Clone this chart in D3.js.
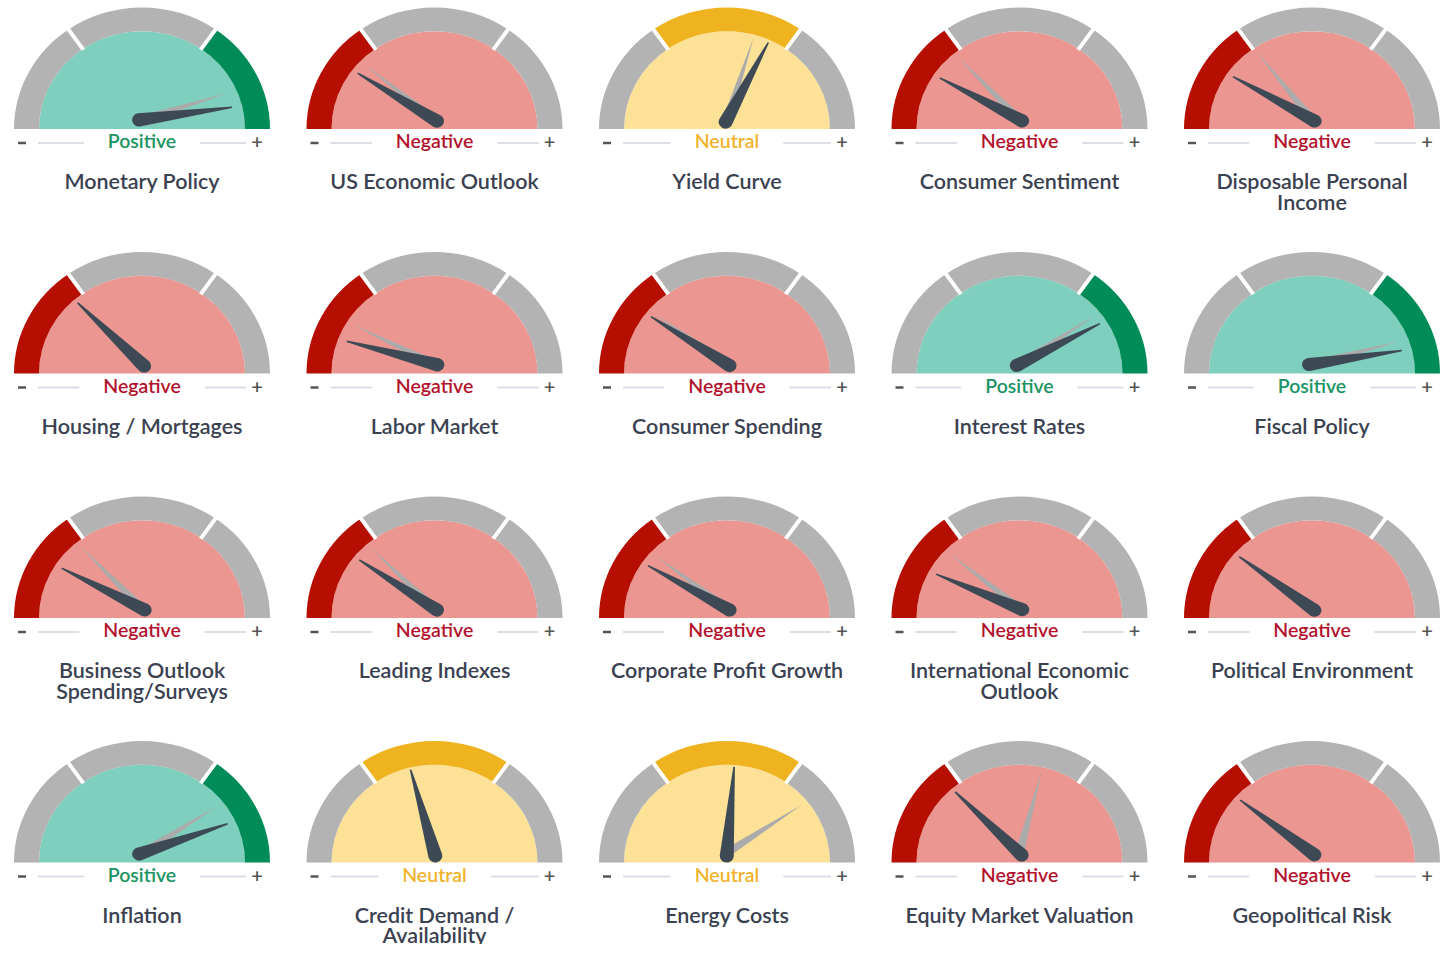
<!DOCTYPE html>
<html>
<head>
<meta charset="utf-8">
<script src="https://cdn.jsdelivr.net/npm/d3@7"></script>
<style>
  body { margin: 0; background: #fff; }
  svg { display: block; }
  text { font-family: Lato, "Open Sans", sans-serif; }
</style>
</head>
<body>
<div id="chart"></div>
<script>
// gauge titles, in reading order (5 per row)
const titles = [
  "Monetary Policy", "US Economic Outlook", "Yield Curve", "Consumer Sentiment", "Disposable Personal\nIncome",
  "Housing / Mortgages", "Labor Market", "Consumer Spending", "Interest Rates", "Fiscal Policy",
  "Business Outlook\nSpending/Surveys", "Leading Indexes", "Corporate Profit Growth", "International Economic\nOutlook", "Political Environment",
  "Inflation", "Credit Demand /\nAvailability", "Energy Costs", "Equity Market Valuation", "Geopolitical Risk"
];

const ratings = [
  "Positive", "Negative", "Neutral", "Negative", "Negative",
  "Negative", "Negative", "Negative", "Positive", "Positive",
  "Negative", "Negative", "Negative", "Negative", "Negative",
  "Positive", "Neutral", "Neutral", "Negative", "Negative"
];

// needle readings, -1 (most negative) .. +1 (most positive)
const current = [
  0.91, -0.64, 0.30, -0.68, -0.67,
  -0.50, -0.83, -0.63, 0.69, 0.90,
  -0.69, -0.62, -0.67, -0.74, -0.59,
  0.78, -0.17, 0.05, -0.50, -0.58
];

// previous readings (grey needle)
const previous = [
  0.80, -0.56, 0.19, -0.48, -0.42,
  -0.50, -0.70, -0.60, 0.62, 0.83,
  -0.48, -0.50, -0.58, -0.56, -0.59,
  0.63, -0.16, 0.62, 0.16, -0.58
];

// zone edges on the -1..1 scale
const zones = [[-1, -0.39], [-0.39, 0.39], [0.39, 1]];
const zoneNames = ["Negative", "Neutral", "Positive"];

const colors = {
  Positive: { band: "#008c58", fill: "#7ecfbd", label: "#1a9462" },
  Negative: { band: "#b60f02", fill: "#ec9691", label: "#b3122c" },
  Neutral:  { band: "#efb31f", fill: "#fde196", label: "#f0b32c" }
};
const ringGray = "#b3b3b3";

const width = 1445;
const height = 944;
const rOuter = 128;
const rInner = 103;
const squash = 0.95;

const col = d3.scalePoint().domain(d3.range(5)).range([142, 1312]);
const row = d3.scalePoint().domain(d3.range(4)).range([129, 862.5]);
const angle = d3.scaleLinear().domain([-1, 1]).range([-Math.PI / 2, Math.PI / 2]);
const deg = a => a * 180 / Math.PI;

const svg = d3.select("#chart").append("svg")
  .attr("width", width)
  .attr("height", height);

const fillArc = d3.arc().innerRadius(0).outerRadius(rInner)
  .startAngle(-Math.PI / 2).endAngle(Math.PI / 2);
const bandArc = d3.arc().innerRadius(rInner).outerRadius(rOuter);

const cells = svg.selectAll("g.cell")
  .data(titles.map((t, i) => ({
    title: t, rating: ratings[i], cur: current[i], prev: previous[i],
    cx: col(i % 5), base: row(Math.floor(i / 5))
  })))
  .join("g")
  .attr("class", "cell")
  .attr("transform", d => `translate(${d.cx},${d.base})`);

// gauge body (slightly flattened like the source)
const gauge = cells.append("g").attr("transform", `scale(1,${squash})`);

gauge.append("path")
  .attr("d", fillArc)
  .attr("fill", d => colors[d.rating].fill);

gauge.selectAll("path.band")
  .data(d => zones.map((z, k) => ({ z, on: zoneNames[k] === d.rating, rating: d.rating })))
  .join("path")
  .attr("class", "band")
  .attr("d", b => bandArc({ startAngle: angle(b.z[0]), endAngle: angle(b.z[1]) }))
  .attr("fill", b => b.on ? colors[b.rating].band : ringGray);

// white gaps between the zones
gauge.selectAll("line.gap")
  .data([zones[0][1], zones[1][1]])
  .join("line")
  .attr("class", "gap")
  .attr("x1", v => Math.sin(angle(v)) * (rInner - 1))
  .attr("y1", v => -Math.cos(angle(v)) * (rInner - 1))
  .attr("x2", v => Math.sin(angle(v)) * (rOuter + 2))
  .attr("y2", v => -Math.cos(angle(v)) * (rOuter + 2))
  .attr("stroke", "#fff")
  .attr("stroke-width", 4);

// needles
const pivot = gauge.append("g").attr("transform", "translate(0,-10)");

pivot.append("path")
  .attr("d", "M-4.5,0 L4.5,0 L0,-90 Z")
  .attr("fill", "#ababab")
  .attr("transform", d => `rotate(${deg(angle(d.prev))})`);

pivot.append("path")
  .attr("d", "M-7,3 A7,7 0 0 0 7,3 L0.8,-91 L-0.8,-91 Z")
  .attr("fill", "#3d4a56")
  .attr("transform", d => `rotate(${deg(angle(d.cur))})`);

// rating label with the - / + scale ends
cells.append("text")
  .attr("class", "rating")
  .attr("y", 19)
  .attr("text-anchor", "middle")
  .attr("font-size", 19.5)
  .attr("font-weight", 600)
  .attr("fill", d => colors[d.rating].label)
  .text(d => d.rating);

cells.each(function(d) {
  const g = d3.select(this);
  const half = g.select("text.rating").node().getComputedTextLength() / 2;
  g.append("line")
    .attr("x1", -104).attr("x2", -half - 24)
    .attr("y1", 14).attr("y2", 14)
    .attr("stroke", "#d9dee7").attr("stroke-width", 2);
  g.append("line")
    .attr("x1", half + 24).attr("x2", 104)
    .attr("y1", 14).attr("y2", 14)
    .attr("stroke", "#d9dee7").attr("stroke-width", 2);
});

cells.append("line")
  .attr("x1", -124).attr("x2", -116)
  .attr("y1", 14).attr("y2", 14)
  .attr("stroke", "#555").attr("stroke-width", 2.5);

cells.append("text")
  .attr("x", 115).attr("y", 20)
  .attr("text-anchor", "middle")
  .attr("font-size", 20)
  .attr("font-weight", 600)
  .attr("fill", "#555")
  .text("+");

// titles
cells.append("text")
  .attr("text-anchor", "middle")
  .attr("font-size", 21.5)
  .attr("font-weight", 600)
  .attr("fill", "#3a4150")
  .selectAll("tspan")
  .data(d => d.title.split("\n"))
  .join("tspan")
  .attr("x", 0)
  .attr("y", (t, k) => 60 + k * 20.5)
  .text(t => t);
</script>
</body>
</html>
